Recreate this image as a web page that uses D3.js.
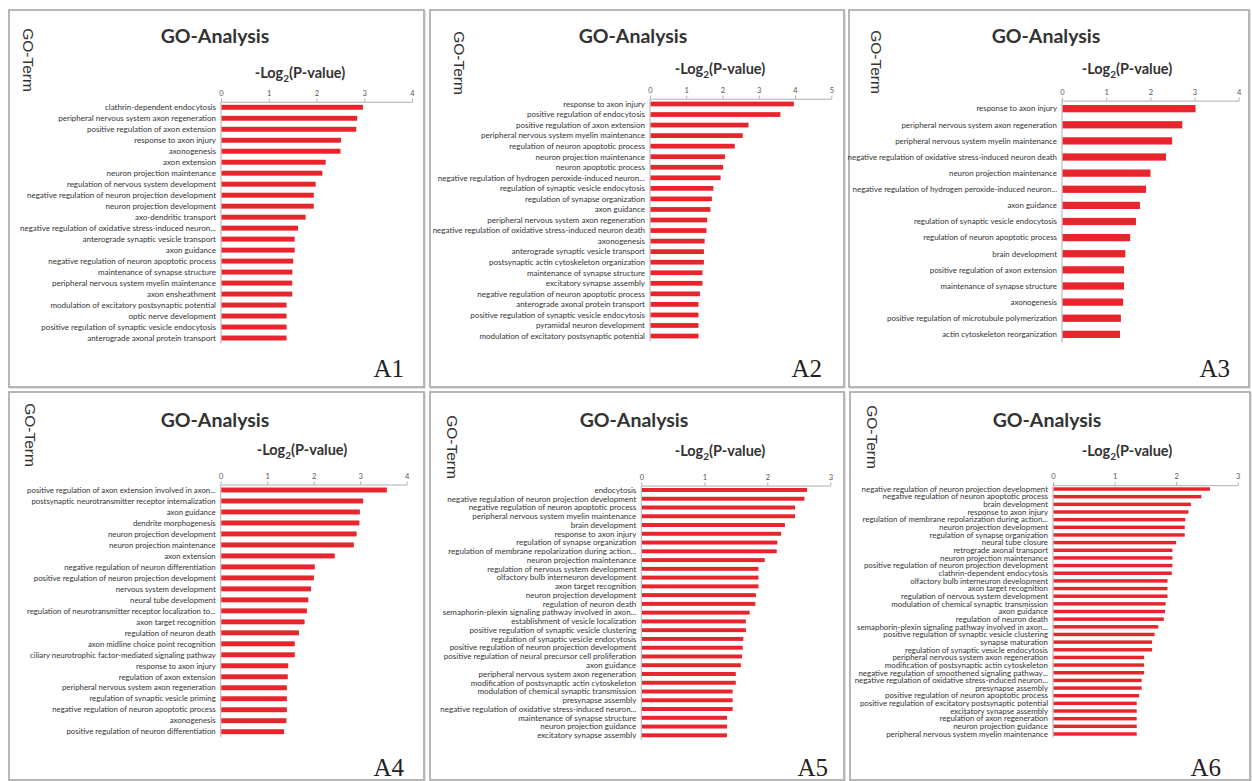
<!DOCTYPE html>
<html>
<head>
<meta charset="utf-8">
<script src="https://cdn.jsdelivr.net/npm/d3@7"></script>
<style>
  html, body { margin: 0; padding: 0; background: #ffffff; }
  svg { display: block; }
</style>
</head>
<body>
<svg id="chart" width="1252" height="781"></svg>
<script>
// ---- GO terms and -log2(P) scores, one pair of arrays per panel ----
const a1Terms = [
  "clathrin-dependent endocytosis",
  "peripheral nervous system axon regeneration",
  "positive regulation of axon extension",
  "response to axon injury",
  "axonogenesis",
  "axon extension",
  "neuron projection maintenance",
  "regulation of nervous system development",
  "negative regulation of neuron projection development",
  "neuron projection development",
  "axo-dendritic transport",
  "negative regulation of oxidative stress-induced neuron...",
  "anterograde synaptic vesicle transport",
  "axon guidance",
  "negative regulation of neuron apoptotic process",
  "maintenance of synapse structure",
  "peripheral nervous system myelin maintenance",
  "axon ensheathment",
  "modulation of excitatory postsynaptic potential",
  "optic nerve development",
  "positive regulation of synaptic vesicle endocytosis",
  "anterograde axonal protein transport"
];
const a1Values = [2.96, 2.84, 2.82, 2.50, 2.49, 2.18, 2.11, 1.97, 1.93, 1.93, 1.76, 1.60,
  1.53, 1.53, 1.50, 1.48, 1.48, 1.48, 1.36, 1.36, 1.36, 1.36];
const a1Ticks = [0, 1, 2, 3, 4];

const a2Terms = [
  "response to axon injury",
  "positive regulation of endocytosis",
  "positive regulation of axon extension",
  "peripheral nervous system myelin maintenance",
  "regulation of neuron apoptotic process",
  "neuron projection maintenance",
  "neuron apoptotic process",
  "negative regulation of hydrogen peroxide-induced neuron...",
  "regulation of synaptic vesicle endocytosis",
  "regulation of synapse organization",
  "axon guidance",
  "peripheral nervous system axon regeneration",
  "negative regulation of oxidative stress-induced neuron death",
  "axonogenesis",
  "anterograde synaptic vesicle transport",
  "postsynaptic actin cytoskeleton organization",
  "maintenance of synapse structure",
  "excitatory synapse assembly",
  "negative regulation of neuron apoptotic process",
  "anterograde axonal protein transport",
  "positive regulation of synaptic vesicle endocytosis",
  "pyramidal neuron development",
  "modulation of excitatory postsynaptic potential"
];
const a2Values = [3.95, 3.58, 2.70, 2.54, 2.32, 2.05, 2.00, 1.93, 1.73, 1.69, 1.65, 1.56,
  1.54, 1.49, 1.47, 1.47, 1.43, 1.43, 1.36, 1.32, 1.32, 1.32, 1.32];
const a2Ticks = [0, 1, 2, 3, 4, 5];

const a3Terms = [
  "response to axon injury",
  "peripheral nervous system axon regeneration",
  "peripheral nervous system myelin maintenance",
  "negative regulation of oxidative stress-induced neuron death",
  "neuron projection maintenance",
  "negative regulation of hydrogen peroxide-induced neuron...",
  "axon guidance",
  "regulation of synaptic vesicle endocytosis",
  "regulation of neuron apoptotic process",
  "brain development",
  "positive regulation of axon extension",
  "maintenance of synapse structure",
  "axonogenesis",
  "positive regulation of microtubule polymerization",
  "actin cytoskeleton reorganization"
];
const a3Values = [3.01, 2.71, 2.48, 2.34, 1.99, 1.89, 1.75, 1.66, 1.53, 1.42, 1.39, 1.39,
  1.37, 1.32, 1.30];
const a3Ticks = [0, 1, 2, 3, 4];

const a4Terms = [
  "positive regulation of axon extension involved in axon...",
  "postsynaptic neurotransmitter receptor internalization",
  "axon guidance",
  "dendrite morphogenesis",
  "neuron projection development",
  "neuron projection maintenance",
  "axon extension",
  "negative regulation of neuron differentiation",
  "positive regulation of neuron projection development",
  "nervous system development",
  "neural tube development",
  "regulation of neurotransmitter receptor localization to...",
  "axon target recognition",
  "regulation of neuron death",
  "axon midline choice point recognition",
  "ciliary neurotrophic factor-mediated signaling pathway",
  "response to axon injury",
  "regulation of axon extension",
  "peripheral nervous system axon regeneration",
  "regulation of synaptic vesicle priming",
  "negative regulation of neuron apoptotic process",
  "axonogenesis",
  "positive regulation of neuron differentiation"
];
const a4Values = [3.56, 3.05, 2.98, 2.97, 2.91, 2.85, 2.44, 2.01, 1.99, 1.93, 1.87, 1.84,
  1.79, 1.67, 1.58, 1.58, 1.44, 1.43, 1.41, 1.41, 1.41, 1.40, 1.35];
const a4Ticks = [0, 1, 2, 3, 4];

const a5Terms = [
  "endocytosis",
  "negative regulation of neuron projection development",
  "negative regulation of neuron apoptotic process",
  "peripheral nervous system myelin maintenance",
  "brain development",
  "response to axon injury",
  "regulation of synapse organization",
  "regulation of membrane repolarization during action...",
  "neuron projection maintenance",
  "regulation of nervous system development",
  "olfactory bulb interneuron development",
  "axon target recognition",
  "neuron projection development",
  "regulation of neuron death",
  "semaphorin-plexin signaling pathway involved in axon...",
  "establishment of vesicle localization",
  "positive regulation of synaptic vesicle clustering",
  "regulation of synaptic vesicle endocytosis",
  "positive regulation of neuron projection development",
  "positive regulation of neural precursor cell proliferation",
  "axon guidance",
  "peripheral nervous system axon regeneration",
  "modification of postsynaptic actin cytoskeleton",
  "modulation of chemical synaptic transmission",
  "presynapse assembly",
  "negative regulation of oxidative stress-induced neuron...",
  "maintenance of synapse structure",
  "neuron projection guidance",
  "excitatory synapse assembly"
];
const a5Values = [2.62, 2.58, 2.43, 2.43, 2.27, 2.21, 2.15, 2.14, 1.95, 1.85, 1.85, 1.85,
  1.81, 1.80, 1.71, 1.65, 1.65, 1.61, 1.60, 1.59, 1.57, 1.49, 1.49, 1.44, 1.44, 1.44,
  1.35, 1.35, 1.35];
const a5Ticks = [0, 1, 2, 3];

const a6Terms = [
  "negative regulation of neuron projection development",
  "negative regulation of neuron apoptotic process",
  "brain development",
  "response to axon injury",
  "regulation of membrane repolarization during action...",
  "neuron projection development",
  "regulation of synapse organization",
  "neural tube closure",
  "retrograde axonal transport",
  "neuron projection maintenance",
  "positive regulation of neuron projection development",
  "clathrin-dependent endocytosis",
  "olfactory bulb interneuron development",
  "axon target recognition",
  "regulation of nervous system development",
  "modulation of chemical synaptic transmission",
  "axon guidance",
  "regulation of neuron death",
  "semaphorin-plexin signaling pathway involved in axon...",
  "positive regulation of synaptic vesicle clustering",
  "synapse maturation",
  "regulation of synaptic vesicle endocytosis",
  "peripheral nervous system axon regeneration",
  "modification of postsynaptic actin cytoskeleton",
  "negative regulation of smoothened signaling pathway...",
  "negative regulation of oxidative stress-induced neuron...",
  "presynapse assembly",
  "positive regulation of neuron apoptotic process",
  "positive regulation of excitatory postsynaptic potential",
  "excitatory synapse assembly",
  "regulation of axon regeneration",
  "neuron projection guidance",
  "peripheral nervous system myelin maintenance"
];
const a6Values = [2.54, 2.40, 2.23, 2.19, 2.14, 2.13, 2.13, 1.99, 1.93, 1.93, 1.93, 1.92,
  1.85, 1.85, 1.85, 1.82, 1.81, 1.79, 1.70, 1.64, 1.60, 1.60, 1.47, 1.47, 1.47, 1.43,
  1.43, 1.39, 1.35, 1.35, 1.35, 1.35, 1.35];
const a6Ticks = [0, 1, 2, 3];

// ---- panel layout: frame, plot extents, text anchors ----
const panels = [
  { name: "A1", terms: a1Terms, values: a1Values, ticks: a1Ticks,
    frame: [9, 10, 424, 387], xLeft: 221, xRight: 412, top: 101.8, bottom: 343.5, fs: 8,
    title: [215, 43], sub: [300, 78], yTitle: [28, 60], tag: [404, 377] },
  { name: "A2", terms: a2Terms, values: a2Values, ticks: a2Ticks,
    frame: [430, 10, 844, 387], xLeft: 650, xRight: 831.3, top: 98.7, bottom: 341.3, fs: 8,
    title: [633, 43], sub: [720, 74], yTitle: [459, 63], tag: [822, 377] },
  { name: "A3", terms: a3Terms, values: a3Values, ticks: a3Ticks,
    frame: [849, 10, 1249, 387], xLeft: 1062, xRight: 1238.7, top: 100.6, bottom: 342.4, fs: 7.9,
    title: [1046, 43], sub: [1127, 74], yTitle: [876, 62], tag: [1230, 377] },
  { name: "A4", terms: a4Terms, values: a4Values, ticks: a4Ticks,
    frame: [9, 392, 424, 780], xLeft: 220.7, xRight: 406.7, top: 484.5, bottom: 737.2, fs: 7.8,
    title: [215, 427], sub: [302, 455], yTitle: [30, 435], tag: [404, 776] },
  { name: "A5", terms: a5Terms, values: a5Values, ticks: a5Ticks,
    frame: [430, 392, 844, 780], xLeft: 641.3, xRight: 830.3, top: 485.6, bottom: 739.7, fs: 8,
    title: [634, 427], sub: [720, 456], yTitle: [452, 447], tag: [828, 776] },
  { name: "A6", terms: a6Terms, values: a6Values, ticks: a6Ticks,
    frame: [850, 392, 1250, 780], xLeft: 1053, xRight: 1237.7, top: 485.2, bottom: 737.8, fs: 7.9,
    title: [1047, 427], sub: [1127, 456], yTitle: [872, 437], tag: [1221, 776] }
];

const BAR = "#e8242c";
const INK = "#333333";
const svg = d3.select("#chart");

panels.forEach(p => {
  const g = svg.append("g").attr("class", "panel-" + p.name);
  const [fx0, fy0, fx1, fy1] = p.frame;

  // framed card
  g.append("rect")
    .attr("x", fx0 + 1).attr("y", fy0 + 1)
    .attr("width", fx1 - fx0).attr("height", fy1 - fy0)
    .attr("fill", "none").attr("stroke", "#dcdcdc").attr("stroke-width", 1.5);
  g.append("rect")
    .attr("x", fx0).attr("y", fy0)
    .attr("width", fx1 - fx0).attr("height", fy1 - fy0)
    .attr("fill", "#ffffff").attr("stroke", "#b0b0b0").attr("stroke-width", 1.8);

  const x = d3.scaleLinear()
    .domain([0, d3.max(p.ticks)])
    .range([p.xLeft, p.xRight]);
  const y = d3.scaleBand()
    .domain(p.terms)
    .range([p.top, p.bottom])
    .paddingInner(0.55)
    .paddingOuter(0.275);

  // top value axis
  const ax = g.append("g")
    .attr("transform", `translate(0,${p.top})`)
    .call(d3.axisTop(x).tickValues(p.ticks).tickFormat(d3.format("d"))
      .tickSize(3).tickSizeOuter(0).tickPadding(3));
  ax.select(".domain").attr("stroke", "#9a9a9a").attr("stroke-width", 0.8);
  ax.selectAll(".tick line").attr("stroke", "#9a9a9a").attr("stroke-width", 0.8);
  ax.selectAll(".tick text")
    .attr("fill", "#555").attr("font-size", 7.5)
    .attr("font-family", "Lato, 'Open Sans', sans-serif");

  // category axis line
  g.append("line")
    .attr("x1", x(0)).attr("x2", x(0))
    .attr("y1", p.top).attr("y2", p.bottom)
    .attr("stroke", "#9a9a9a").attr("stroke-width", 0.8);

  const rows = p.terms.map((t, i) => ({ term: t, value: p.values[i] }));

  g.selectAll("rect.bar")
    .data(rows)
    .join("rect")
    .attr("class", "bar")
    .attr("x", x(0) + 0.6)
    .attr("y", d => y(d.term))
    .attr("width", d => x(d.value) - x(0))
    .attr("height", y.bandwidth())
    .attr("fill", BAR);

  g.selectAll("text.term")
    .data(rows)
    .join("text")
    .attr("class", "term")
    .attr("x", x(0) - 5)
    .attr("y", d => y(d.term) + y.bandwidth() / 2)
    .attr("dy", "0.35em")
    .attr("text-anchor", "end")
    .attr("font-family", "Lato, 'Open Sans', sans-serif")
    .attr("font-size", p.fs)
    .attr("fill", INK)
    .text(d => d.term);

  // headings
  g.append("text")
    .attr("x", p.title[0]).attr("y", p.title[1])
    .attr("text-anchor", "middle")
    .attr("font-family", "Lato, sans-serif").attr("font-weight", 700)
    .attr("font-size", 19.5).attr("fill", INK)
    .text("GO-Analysis");

  const sub = g.append("text")
    .attr("x", p.sub[0]).attr("y", p.sub[1])
    .attr("text-anchor", "middle")
    .attr("font-family", "Lato, sans-serif").attr("font-weight", 700)
    .attr("font-size", 14.5).attr("fill", INK);
  sub.append("tspan").text("-Log");
  sub.append("tspan").attr("font-size", 10).attr("dy", 3.5).text("2");
  sub.append("tspan").attr("dy", -3.5).text("(P-value)");

  g.append("text")
    .attr("transform", `translate(${p.yTitle[0]},${p.yTitle[1]}) rotate(90)`)
    .attr("text-anchor", "middle")
    .attr("dy", "0.35em")
    .attr("font-family", "'Liberation Sans', Arial, sans-serif")
    .attr("font-size", 15.5).attr("fill", INK)
    .text("GO-Term");

  g.append("text")
    .attr("x", p.tag[0]).attr("y", p.tag[1])
    .attr("text-anchor", "end")
    .attr("font-family", "'Liberation Serif', 'Times New Roman', serif")
    .attr("font-size", 25).attr("fill", "#222")
    .text(p.name);
});
</script>
</body>
</html>
